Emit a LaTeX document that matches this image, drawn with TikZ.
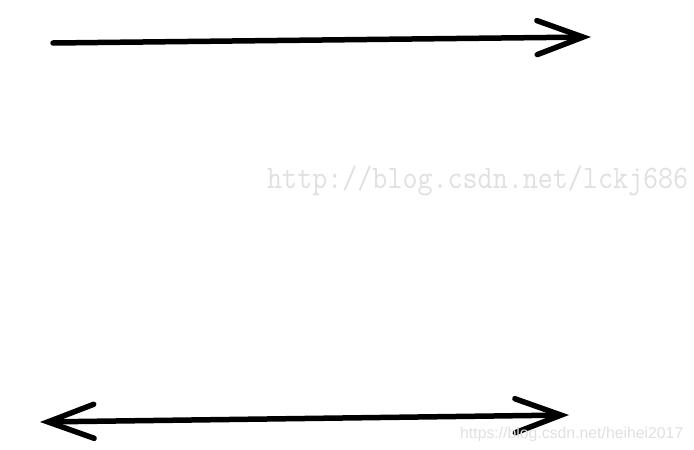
\documentclass[tikz,border=0pt]{standalone}
\usepackage{fontspec}
\newfontfamily\marksans{Liberation Sans}
\usetikzlibrary{arrows.meta}
\tikzset{vec/.style={black, line width=5.5pt, line cap=round, -{Straight Barb[length=46pt,width=34pt,line cap=round]}},
         wvec/.style={vec, {Straight Barb[length=46pt,width=34pt,line cap=round]}-{Straight Barb[length=46pt,width=34pt,line cap=round]}},
         wmark/.style={text=black!12, inner sep=0pt}}

\begin{document}
\begin{tikzpicture}[x=1pt,y=-1pt]
       \useasboundingbox (0,0) rectangle (694,450);
       \coordinate (ta) at (53,43);  \coordinate (tb) at (591,37);
       \coordinate (ba) at (40,422); \coordinate (bb) at (569,415);
       \draw[vec]  (ta) -- (tb);
       \draw[wvec] (ba) -- (bb);
       \node[wmark, anchor=base west, font=\ttfamily\fontsize{29.2}{29}\selectfont, yscale=1.12] (m1) at (267,188) {http://blog.csdn.net/lckj686};
       \node[wmark, anchor=base west, font=\marksans\fontsize{15.8}{16}\selectfont] (m2) at (460,438) {https://blog.csdn.net/heihei2017};
\end{tikzpicture}
\end{document}
